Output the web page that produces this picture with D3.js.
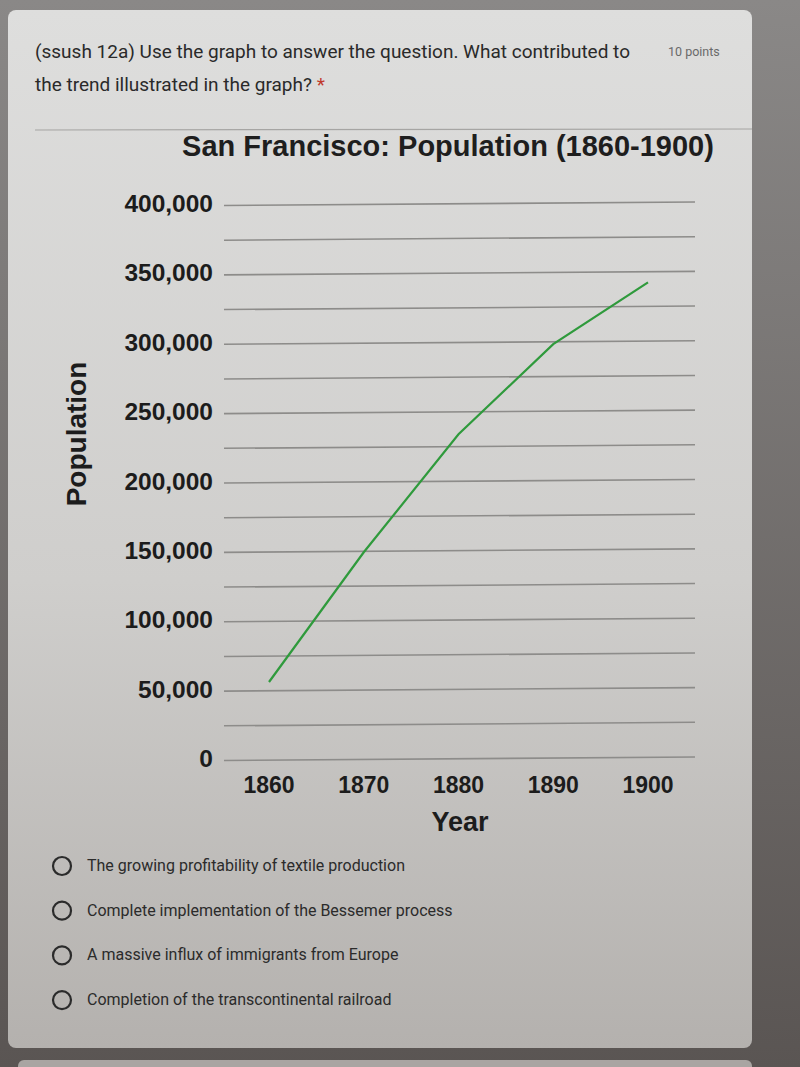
<!DOCTYPE html>
<html>
<head>
<meta charset="utf-8">
<script src="https://cdn.jsdelivr.net/npm/d3@7"></script>
<style>
  html, body { margin: 0; padding: 0; background: #5f5b59; }
  svg { display: block; }
</style>
</head>
<body>
<svg width="800" height="1067"></svg>
<script>
const years = [1860, 1870, 1880, 1890, 1900];
const population = [55500, 149000, 234000, 299000, 343500];
const yTicks = [0, 50000, 100000, 150000, 200000, 250000, 300000, 350000, 400000];
const gridValues = d3.range(0, 400001, 25000);
const answers = [
    "The growing profitability of textile production",
    "Complete implementation of the Bessemer process",
    "A massive influx of immigrants from Europe",
    "Completion of the transcontinental railroad"
];

const svg = d3.select("svg");
const chartFont = "Liberation Sans Narrow, Liberation Sans, Arial";

// card background (photo of a screen, gets darker towards the bottom)
let defs = svg.append("defs");
let grad = defs.append("linearGradient")
    .attr("id", "cardGrad")
    .attr("x1", 0).attr("y1", 0).attr("x2", 0).attr("y2", 1);
grad.append("stop").attr("offset", "0%").attr("stop-color", "#dededd");
grad.append("stop").attr("offset", "55%").attr("stop-color", "#cfcecc");
grad.append("stop").attr("offset", "100%").attr("stop-color", "#b4b1ae");

let bg = defs.append("linearGradient")
    .attr("id", "bgGrad")
    .attr("x1", 0).attr("y1", 0).attr("x2", 0).attr("y2", 1);
bg.append("stop").attr("offset", "0%").attr("stop-color", "#8a8887");
bg.append("stop").attr("offset", "100%").attr("stop-color", "#5a5553");

svg.append("rect")
    .attr("width", 800).attr("height", 1067)
    .attr("fill", "url(#bgGrad)");

svg.append("rect")
    .attr("x", 8).attr("y", 10)
    .attr("width", 744).attr("height", 1038)
    .attr("rx", 8)
    .attr("fill", "url(#cardGrad)");

svg.append("rect")
    .attr("x", 18).attr("y", 1060)
    .attr("width", 734).attr("height", 20)
    .attr("rx", 6)
    .attr("fill", "#a9a5a2");

// question header
svg.append("text")
    .attr("x", 35).attr("y", 58)
    .attr("font-family", "Roboto")
    .attr("font-size", "19px")
    .attr("fill", "#2a2a2a")
    .text("(ssush 12a) Use the graph to answer the question. What contributed to");

let line2 = svg.append("text")
    .attr("x", 35).attr("y", 91)
    .attr("font-family", "Roboto")
    .attr("font-size", "19px")
    .attr("fill", "#2a2a2a")
    .text("the trend illustrated in the graph? ");
line2.append("tspan").attr("fill", "#c0392b").text("*");

svg.append("text")
    .attr("x", 668).attr("y", 56)
    .attr("font-family", "Roboto")
    .attr("font-size", "12.5px")
    .attr("fill", "#6a6a6a")
    .text("10 points");

svg.append("line")
    .attr("x1", 35).attr("x2", 752)
    .attr("y1", 130).attr("y2", 129)
    .attr("stroke", "#a6a5a3")
    .attr("stroke-width", 1.2);

// chart
const x = d3.scaleLinear().domain([1860, 1900]).range([269, 648]);
const y = d3.scaleLinear().domain([0, 400000]).range([759, 204]);
const gridLeft = 224, gridRight = 695;

svg.append("text")
    .attr("x", 448).attr("y", 156)
    .attr("text-anchor", "middle")
    .attr("font-family", chartFont)
    .attr("font-weight", "bold")
    .attr("font-size", "29px")
    .attr("fill", "#1e1e1e")
    .text("San Francisco: Population (1860-1900)");

svg.append("g")
    .selectAll("line")
    .data(gridValues)
    .enter()
    .append("line")
    .attr("x1", gridLeft).attr("x2", gridRight)
    .attr("y1", function(d) { return y(d) + 1.5; })
    .attr("y2", function(d) { return y(d) - 2; })
    .attr("stroke", "#8d8c8a")
    .attr("stroke-width", 1.6);

svg.append("g")
    .selectAll("text")
    .data(yTicks)
    .enter()
    .append("text")
    .attr("x", 213)
    .attr("y", function(d) { return y(d) + 8; })
    .attr("text-anchor", "end")
    .attr("font-family", chartFont)
    .attr("font-weight", "bold")
    .attr("font-size", "24.5px")
    .attr("fill", "#1c1c1c")
    .text(function(d) { return d3.format(",")(d); });

svg.append("g")
    .selectAll("text")
    .data(years)
    .enter()
    .append("text")
    .attr("x", function(d) { return x(d); })
    .attr("y", 793)
    .attr("text-anchor", "middle")
    .attr("font-family", chartFont)
    .attr("font-weight", "bold")
    .attr("font-size", "23px")
    .attr("fill", "#1c1c1c")
    .text(function(d) { return d; });

svg.append("text")
    .attr("x", 460).attr("y", 831)
    .attr("text-anchor", "middle")
    .attr("font-family", chartFont)
    .attr("font-weight", "bold")
    .attr("font-size", "27px")
    .attr("fill", "#1c1c1c")
    .text("Year");

svg.append("text")
    .attr("transform", "translate(86, 434) rotate(-90)")
    .attr("text-anchor", "middle")
    .attr("font-family", chartFont)
    .attr("font-weight", "bold")
    .attr("font-size", "28px")
    .attr("fill", "#1c1c1c")
    .text("Population");

let lineGen = d3.line()
    .x(function(d, i) { return x(years[i]); })
    .y(function(d) { return y(d); });

svg.append("path")
    .datum(population)
    .attr("d", lineGen)
    .attr("fill", "none")
    .attr("stroke", "#2f9a3c")
    .attr("stroke-width", 2.2);

// answer options
let opts = svg.append("g")
    .selectAll("g")
    .data(answers)
    .enter()
    .append("g")
    .attr("transform", function(d, i) { return "translate(62," + (866 + i * 44.7) + ")"; });

opts.append("circle")
    .attr("r", 9)
    .attr("fill", "none")
    .attr("stroke", "#2b2b2b")
    .attr("stroke-width", 2.2);

opts.append("text")
    .attr("x", 25).attr("y", 5)
    .attr("font-family", "Roboto")
    .attr("font-size", "16px")
    .attr("fill", "#2b2b2b")
    .text(function(d) { return d; });
</script>
</body>
</html>
